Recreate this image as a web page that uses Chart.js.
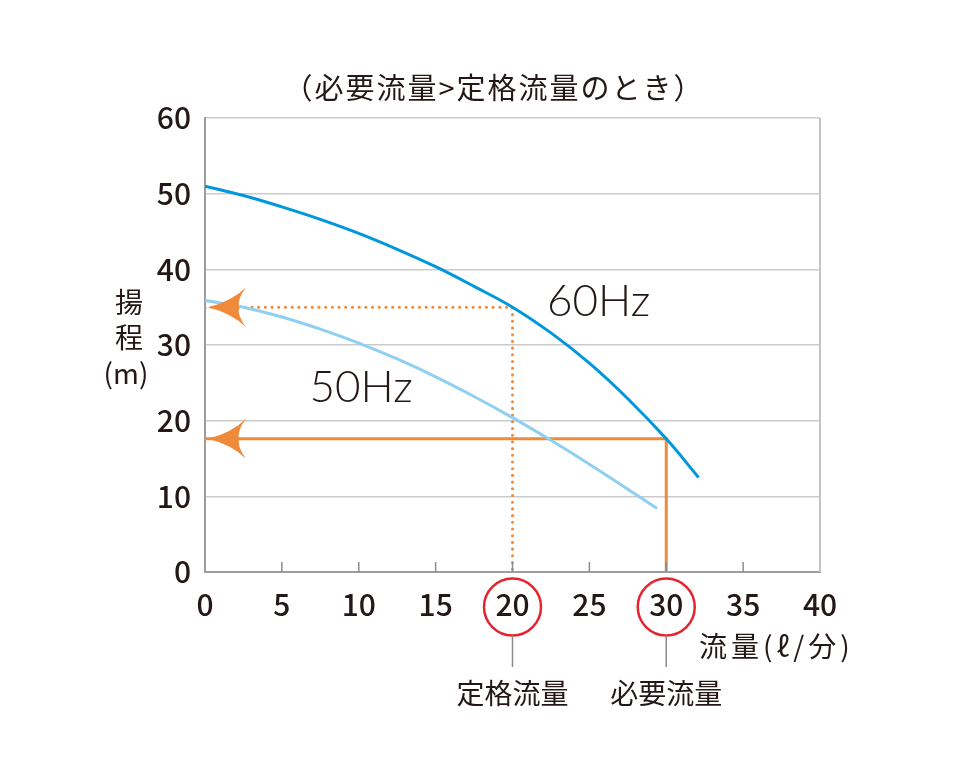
<!DOCTYPE html>
<html>
<head>
<meta charset="utf-8">
<script src="https://cdn.jsdelivr.net/npm/chart.js@4"></script>
<style>
  html, body { margin: 0; padding: 0; background: #fff; }
  #wrap { width: 954px; height: 778px; }
</style>
</head>
<body>
<div id="wrap"><canvas id="myChart" width="954" height="778"></canvas></div>
<script>
// pump curve data
const flow60 = [0, 2.5, 5, 7.5, 10, 12.5, 15, 17.5, 20, 22.5, 25, 27.5, 30, 32.1];
const head60 = [51, 49.75, 48.25, 46.6, 44.75, 42.65, 40.35, 37.75, 35.0, 31.6, 27.6, 22.9, 17.6, 12.5];
const flow50 = [0, 2.5, 5, 7.5, 10, 12.5, 15, 17.5, 20, 22.5, 25, 27.5, 29.4];
const head50 = [35.9, 35.0, 33.7, 32.1, 30.25, 28.15, 25.8, 23.2, 20.4, 17.4, 14.25, 10.95, 8.4];

const flowTicks = [0, 5, 10, 15, 20, 25, 30, 35, 40];
const headTicks = [0, 10, 20, 30, 40, 50, 60];

// rated / required operating points
const ratedFlow = 20, ratedHead = 35.0;
const requiredFlow = 30, requiredHead = 17.6;

const textColor = '#231815';
const orange = '#EF8A3A';
const jpFont = '"Noto Sans CJK JP", "Noto Sans", sans-serif';

function toPoints(xs, ys) {
    return xs.map((x, i) => ({ x: x, y: ys[i] }));
}

// extra drawing: arrows, circles, labels, borders
const annotate = {
    id: 'annotate',
    afterDatasetsDraw(chart) {
        const ctx = chart.ctx;
        const xs = chart.scales.x, ys = chart.scales.y;
        const area = chart.chartArea;
        ctx.save();

        // right border
        ctx.strokeStyle = '#c4c4c4';
        ctx.lineWidth = 2;
        ctx.beginPath();
        ctx.moveTo(area.right, area.top);
        ctx.lineTo(area.right, area.bottom);
        ctx.stroke();

        // small inner ticks on the flow axis
        ctx.strokeStyle = '#8c8c8c';
        ctx.lineWidth = 1.5;
        flowTicks.forEach(v => {
            if (v === flowTicks[0] || v === flowTicks[flowTicks.length - 1]) return;
            const px = xs.getPixelForValue(v);
            ctx.beginPath();
            ctx.moveTo(px, area.bottom);
            ctx.lineTo(px, area.bottom - 10);
            ctx.stroke();
        });

        // arrowheads pointing at the head axis
        function arrow(head) {
            const tipX = xs.getPixelForValue(0) + 3;
            const y = ys.getPixelForValue(head);
            ctx.fillStyle = orange;
            ctx.beginPath();
            ctx.moveTo(tipX, y);
            ctx.quadraticCurveTo(tipX + 24, y - 6, tipX + 38, y - 20);
            ctx.quadraticCurveTo(tipX + 29, y - 8, tipX + 31, y);
            ctx.quadraticCurveTo(tipX + 29, y + 8, tipX + 38, y + 20);
            ctx.quadraticCurveTo(tipX + 24, y + 6, tipX, y);
            ctx.closePath();
            ctx.fill();
        }
        arrow(ratedHead);
        arrow(requiredHead);

        // Hz labels
        ctx.fillStyle = textColor;
        ctx.font = '300 44px "Lato", "Open Sans", sans-serif';
        ctx.textAlign = 'center';
        ctx.textBaseline = 'middle';
        ctx.fillText('60Hz', xs.getPixelForValue(25.6), ys.getPixelForValue(35.7));
        ctx.fillText('50Hz', xs.getPixelForValue(10.15), ys.getPixelForValue(24.3));

        // circles around rated / required flow tick labels + leader lines
        const cy = area.bottom + 35;
        [[ratedFlow, '定格流量'], [requiredFlow, '必要流量']].forEach(([v, label]) => {
            const px = xs.getPixelForValue(v);
            ctx.strokeStyle = '#E5242F';
            ctx.lineWidth = 2.5;
            ctx.beginPath();
            ctx.arc(px, cy, 28.5, 0, Math.PI * 2);
            ctx.stroke();
            ctx.strokeStyle = '#8c8c8c';
            ctx.lineWidth = 1.5;
            ctx.beginPath();
            ctx.moveTo(px, cy + 28.5);
            ctx.lineTo(px, cy + 60);
            ctx.stroke();
            ctx.fillStyle = textColor;
            ctx.font = '400 28px ' + jpFont;
            ctx.textAlign = 'center';
            ctx.textBaseline = 'middle';
            ctx.fillText(label, px, cy + 86);
        });

        // titles
        ctx.fillStyle = textColor;
        ctx.font = '400 29px ' + jpFont;
        ctx.textAlign = 'center';
        ctx.textBaseline = 'middle';
        ctx.letterSpacing = '2px';
        ctx.fillText('（必要流量>定格流量のとき）', 494, area.top - 30);
        ctx.letterSpacing = '4px';
        ctx.font = '400 28px ' + jpFont;
        ctx.textAlign = 'left';
        ctx.fillText('流量(ℓ/分)', 699, area.bottom + 74);
        ctx.letterSpacing = '0px';
        ctx.textAlign = 'center';
        ctx.fillText('揚', 129, 302);
        ctx.fillText('程', 129, 337);
        ctx.fillText('(m)', 126, 373);

        ctx.restore();
    }
};

const ctx = document.getElementById('myChart').getContext('2d');
window.myChart = new Chart(ctx, {
    type: 'line',
    data: {
        datasets: [
            {
                label: '50Hz',
                data: toPoints(flow50, head50),
                borderColor: '#8FD0F2',
                borderWidth: 3,
                pointRadius: 0,
                tension: 0.4
            },
            {
                label: '60Hz',
                data: toPoints(flow60, head60),
                borderColor: '#0097DD',
                borderWidth: 3,
                pointRadius: 0,
                tension: 0.4
            },
            {
                label: 'rated',
                data: [{ x: 0, y: ratedHead }, { x: ratedFlow, y: ratedHead }, { x: ratedFlow, y: 0 }],
                borderColor: orange,
                borderWidth: 3,
                borderDash: [0.1, 6.6],
                borderCapStyle: 'round',
                pointRadius: 0,
                tension: 0
            },
            {
                label: 'required',
                data: [{ x: 0, y: requiredHead }, { x: requiredFlow, y: requiredHead }, { x: requiredFlow, y: 0 }],
                borderColor: orange,
                borderWidth: 3,
                borderJoinStyle: 'miter',
                pointRadius: 0,
                tension: 0
            }
        ]
    },
    options: {
        responsive: false,
        animation: false,
        devicePixelRatio: 1,
        layout: { padding: { left: 0, top: 118, right: 134, bottom: 156 } },
        plugins: {
            legend: { display: false },
            tooltip: { enabled: false }
        },
        scales: {
            x: {
                type: 'linear',
                min: 0,
                max: 40,
                afterFit: s => { s.height = 50; },
                afterBuildTicks: s => { s.ticks = flowTicks.map(v => ({ value: v })); },
                grid: { display: true, drawOnChartArea: false, drawTicks: false },
                border: { color: '#9d9d9d', width: 2 },
                ticks: {
                    padding: 15,
                    color: textColor,
                    font: { family: jpFont, size: 30, weight: 500 }
                }
            },
            y: {
                min: 0,
                max: 60,
                afterFit: s => { s.width = 205; },
                afterBuildTicks: s => { s.ticks = headTicks.map(v => ({ value: v })); },
                grid: { color: '#cbcbcb', lineWidth: 1.5, drawTicks: false },
                border: { color: '#9d9d9d', width: 2 },
                ticks: {
                    padding: 14,
                    color: textColor,
                    font: { family: jpFont, size: 30, weight: 500 }
                }
            }
        }
    },
    plugins: [annotate]
});
</script>
</body>
</html>
